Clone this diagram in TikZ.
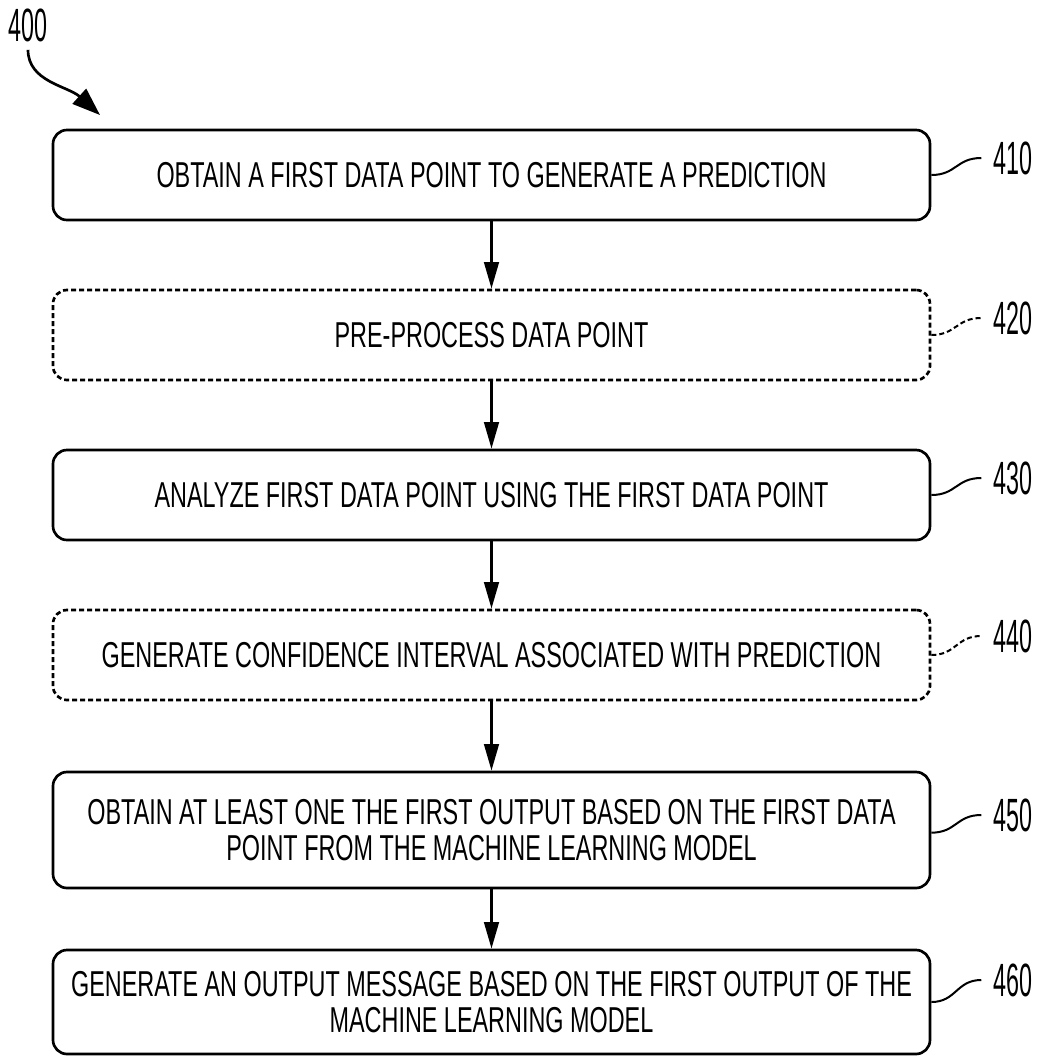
\documentclass[tikz,border=0pt]{standalone}
\usepackage{fontspec}
\setmainfont{Liberation Sans}
\newfontfamily\boxfont[FakeStretch=0.65]{Liberation Sans}
\newfontfamily\reffont[FakeStretch=0.5]{Liberation Sans}
\usetikzlibrary{arrows.meta, positioning}

\begin{document}
\begin{tikzpicture}[x=0.75pt, y=-0.75pt,
  stepbox/.style={rectangle, draw=black, line width=2pt, rounded corners=10.5pt,
              minimum width=657.75pt, minimum height=67.5pt,
              font=\boxfont\fontsize{27}{27.5}\selectfont, align=center, inner sep=0pt},
  optbox/.style={stepbox, dash pattern=on 3.75pt off 2.25pt},
  ref/.style={font=\reffont\fontsize{35}{36}\selectfont, inner xsep=9pt, inner ysep=1pt},
  lead/.style={line width=1.5pt},
  optlead/.style={lead, dash pattern=on 3.75pt off 2.25pt},
  arr/.style={-{Triangle[length=20pt, width=11pt]}, line width=2pt}
]
  \useasboundingbox (0,0) rectangle (1041,1058);

  \node[stepbox] (b410) at (491.5, 175) {OBTAIN A FIRST DATA POINT TO GENERATE A PREDICTION};
  \node[optbox]  (b420) at (491.5, 335) {PRE-PROCESS DATA POINT};
  \node[stepbox] (b430) at (491.5, 495) {ANALYZE FIRST DATA POINT USING THE FIRST DATA POINT};
  \node[optbox]  (b440) at (491.5, 655) {GENERATE CONFIDENCE INTERVAL ASSOCIATED WITH PREDICTION};
  \node[stepbox, minimum height=87pt] (b450) at (491.5, 830)
    {OBTAIN AT LEAST ONE THE FIRST OUTPUT BASED ON THE FIRST DATA\\POINT FROM THE MACHINE LEARNING MODEL};
  \node[stepbox, minimum height=78pt] (b460) at (491.5, 1002)
    {GENERATE AN OUTPUT MESSAGE BASED ON THE FIRST OUTPUT OF THE\\MACHINE LEARNING MODEL};

  \draw[arr] (b410) -- (b420);
  \draw[arr] (b420) -- (b430);
  \draw[arr] (b430) -- (b440);
  \draw[arr] (b440) -- (b450);
  \draw[arr] (b450) -- (b460);

  % reference numerals
  \node[ref] (l410) at (1013, 158) {410};
  \node[ref] (l420) at (1013, 318) {420};
  \node[ref] (l430) at (1013, 478) {430};
  \node[ref] (l440) at (1013, 636) {440};
  \node[ref] (l450) at (1013, 815) {450};
  \node[ref] (l460) at (1013, 980) {460};

  \draw[lead]    (b410.east) .. controls +(25,0) and +(-25,0) .. (l410.west);
  \draw[optlead] (b420.east) .. controls +(25,0) and +(-25,0) .. (l420.west);
  \draw[lead]    (b430.east) .. controls +(25,0) and +(-25,0) .. (l430.west);
  \draw[optlead] (b440.east) .. controls +(25,0) and +(-25,0) .. (l440.west);
  \draw[lead]    ([yshift=-2pt]b450.east) .. controls +(25,0) and +(-25,0) .. (l450.west);
  \draw[lead]    (b460.east) .. controls +(25,0) and +(-25,0) .. (l460.west);

  \node[ref, inner xsep=1pt] (l400) at (28, 25) {400};
  \coordinate (t400) at (100, 115);
  \draw[-{Triangle[length=21pt, width=15pt]}, line width=2pt]
    ([yshift=-5pt]l400.south) .. controls +(0,32) and (68,86) .. (t400);
\end{tikzpicture}
\end{document}
